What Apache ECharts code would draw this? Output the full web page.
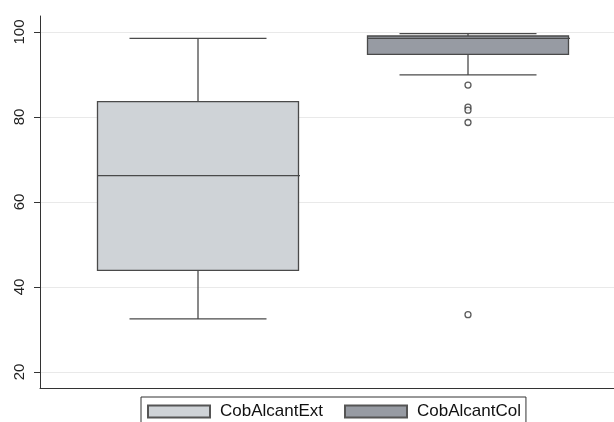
<!DOCTYPE html>
<html>
<head>
<meta charset="utf-8">
<script src="https://cdn.jsdelivr.net/npm/echarts@6/dist/echarts.min.js"></script>
<style>html,body{margin:0;padding:0;background:#fff}#c{width:614px;height:422px}</style>
</head>
<body>
<div id="c"></div>
<script>
const categories = ['CobAlcantExt', 'CobAlcantCol'];
// [lower whisker, Q1, median, Q3, upper whisker]
const boxExt = [32.5, 43.9, 66.2, 83.6, 98.5];
const boxCol = [89.9, 94.75, 98.5, 99.05, 99.6];
const outlierCategory = ['CobAlcantCol', 'CobAlcantCol', 'CobAlcantCol', 'CobAlcantCol', 'CobAlcantCol'];
const outlierValues = [87.5, 82.3, 81.6, 78.7, 33.5];
const yTicks = [20, 40, 60, 80, 100];
const colors = ['#cfd3d7', '#979ba3'];

const font = 'Liberation Sans, Arial, sans-serif';
const chart = echarts.init(document.getElementById('c'));
const yMin = 16.24, yMax = 103.76;
const BOX_W = 201, CAP_W = 137;
const lineColor = '#4a4a4a';

function renderBox(params, api) {
  const i = api.value(0);
  const lo = api.coord([i, api.value(1)]);
  const q1 = api.coord([i, api.value(2)]);
  const md = api.coord([i, api.value(3)]);
  const q3 = api.coord([i, api.value(4)]);
  const hi = api.coord([i, api.value(5)]);
  const cx = lo[0];
  const ls = {stroke: lineColor, lineWidth: 1.3};
  return {
    type: 'group',
    children: [
      {type: 'line', shape: {x1: cx, y1: lo[1], x2: cx, y2: q1[1]}, style: ls},
      {type: 'line', shape: {x1: cx, y1: q3[1], x2: cx, y2: hi[1]}, style: ls},
      {type: 'line', shape: {x1: cx - CAP_W / 2, y1: lo[1], x2: cx + CAP_W / 2, y2: lo[1]}, style: ls},
      {type: 'line', shape: {x1: cx - CAP_W / 2, y1: hi[1], x2: cx + CAP_W / 2, y2: hi[1]}, style: ls},
      {type: 'rect', shape: {x: cx - BOX_W / 2, y: q3[1], width: BOX_W, height: q1[1] - q3[1]},
       style: {fill: colors[i], stroke: lineColor, lineWidth: 1.3}},
      {type: 'line', shape: {x1: cx - BOX_W / 2, y1: md[1], x2: cx + BOX_W / 2 + 1.5, y2: md[1]}, style: ls}
    ]
  };
}

chart.setOption({
  animation: false,
  backgroundColor: '#fff',
  grid: [
    {left: 40, right: 0, top: 16, bottom: 34},
    {left: 63, right: 11, top: 16, bottom: 34}
  ],
  xAxis: [
    {type: 'category', gridIndex: 0, data: categories, boundaryGap: true,
     axisLine: {show: true, lineStyle: {color: '#333', width: 1}},
     axisTick: {show: false}, axisLabel: {show: false}, splitLine: {show: false}},
    {type: 'category', gridIndex: 1, data: categories, show: false}
  ],
  yAxis: [
    {type: 'value', gridIndex: 0, min: yMin, max: yMax,
     axisLine: {show: true, lineStyle: {color: '#333', width: 1}},
     axisTick: {show: true, length: 6, customValues: yTicks, lineStyle: {color: '#333'}},
     axisLabel: {customValues: yTicks, rotate: 90, fontSize: 15, color: '#222', fontFamily: font, margin: 13},
     splitLine: {show: true, lineStyle: {color: '#e9e9e9', width: 1}}},
    {type: 'value', gridIndex: 1, min: yMin, max: yMax, show: false, splitLine: {show: false}}
  ],
  legend: {
    left: 141, top: 397,
    data: categories,
    icon: 'rect',
    itemWidth: 62, itemHeight: 12, itemGap: 21,
    padding: [6, 5, 5, 6],
    borderColor: '#333', borderWidth: 1,
    textStyle: {fontSize: 17, color: '#111', fontFamily: font, padding: [0, 0, 0, 5]}
  },
  series: [
    {type: 'bar', name: categories[0], xAxisIndex: 1, yAxisIndex: 1, data: [],
     itemStyle: {color: colors[0], borderColor: '#555', borderWidth: 1}},
    {type: 'bar', name: categories[1], xAxisIndex: 1, yAxisIndex: 1, data: [],
     itemStyle: {color: colors[1], borderColor: '#555', borderWidth: 1}},
    {type: 'custom', name: 'box', xAxisIndex: 1, yAxisIndex: 1,
     renderItem: renderBox,
     encode: {x: 0, y: [1, 2, 3, 4, 5]},
     data: [
       [0].concat(boxExt),
       [1].concat(boxCol)
     ]},
    {type: 'scatter', name: 'outliers', xAxisIndex: 1, yAxisIndex: 1,
     symbol: 'circle', symbolSize: 6,
     itemStyle: {color: '#fff', borderColor: '#333', borderWidth: 1.3},
     data: outlierCategory.map((c, i) => [c, outlierValues[i]])}
  ]
});
</script>
</body>
</html>
